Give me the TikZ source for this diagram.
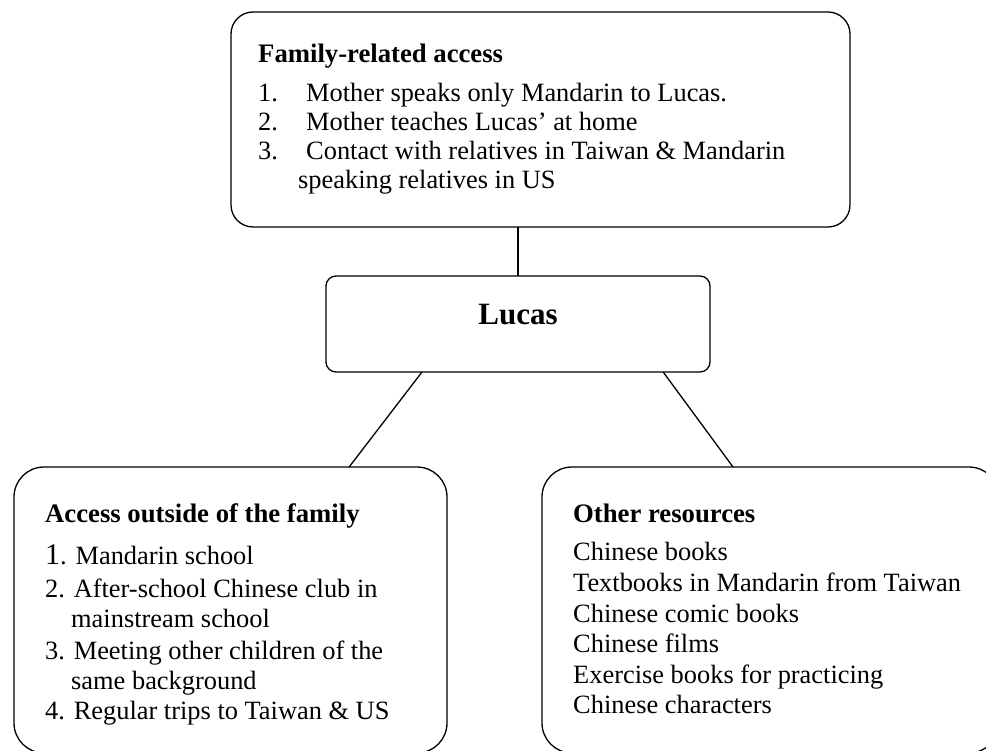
\documentclass[tikz,border=0pt]{standalone}
\usepackage{fontspec}
\setmainfont{Liberation Serif}
\usetikzlibrary{calc}
\begin{document}
\begin{tikzpicture}[x=1pt,y=-1pt,
  box/.style={draw, line width=1.3pt, inner sep=0pt, outer sep=0pt, rounded corners=#1},
  conn/.style={line width=1.3pt},
  txt/.style={anchor=base west, inner sep=0pt, font=\fontsize{26.4}{32}\selectfont},
  head/.style={anchor=base west, inner sep=0pt, font=\fontsize{26.7}{31}\selectfont\bfseries}]
\useasboundingbox (0,0) rectangle (986,751);
\clip (0,0) rectangle (986,751);

% boxes
\node[box=22pt, minimum width=619pt, minimum height=215pt] (family) at (540.5,119.5) {};
\node[box=10pt, minimum width=384pt, minimum height=96pt] (lucas) at (518,324) {};
\node[box=30pt, minimum width=433pt, minimum height=286pt] (outside) at (230.5,610) {};
\node[box=30pt, minimum width=457pt, minimum height=286pt] (other) at (770.5,610) {};

% connectors
\draw[conn] (lucas.north) -- (lucas.north |- family.south);
\draw[conn] ($(lucas.south west)!0.25!(lucas.south east)$) -- ($(outside.north west)!0.774!(outside.north east)$);
\draw[conn] ($(lucas.south west)!0.878!(lucas.south east)$) -- ($(other.north west)!0.418!(other.north east)$);

% family-related access
\node[head] (fh) at (258,63) {Family-related access};
\node[txt] (fn1) at (258,102) {1.};
\node[txt] (ft1) at (306,102) {Mother speaks only Mandarin to Lucas.};
\node[txt] (fn2) at (258,131) {2.};
\node[txt] (ft2) at (306,131) {Mother teaches Lucas’ at home};
\node[txt] (fn3) at (258,160) {3.};
\node[txt] (ft3) at (306,160) {Contact with relatives in Taiwan \& Mandarin};
\node[txt] (ft3b) at (298,189) {speaking relatives in US};

% centre
\node[anchor=base, inner sep=0pt, font=\fontsize{31}{36}\selectfont\bfseries] (lt) at (518,325) {Lucas};

% access outside of the family
\node[head] (oh) at (45,522) {Access outside of the family};
\node[txt] (o1) at (45,564) {{\fontsize{30}{36}\selectfont 1}. Mandarin school};
\node[txt] (o2) at (45,597) {2. After-school Chinese club in};
\node[txt] (o2b) at (71,627) {mainstream school};
\node[txt] (o3) at (45,659) {3. Meeting other children of the};
\node[txt] (o3b) at (71,689) {same background};
\node[txt] (o4) at (45,719) {4. Regular trips to Taiwan \& US};

% other resources
\node[head] (rh) at (573,522) {Other resources};
\node[txt] (r1) at (573,560) {Chinese books};
\node[txt] (r2) at (573,591) {Textbooks in Mandarin from Taiwan};
\node[txt] (r3) at (573,622) {Chinese comic books};
\node[txt] (r4) at (573,652) {Chinese films};
\node[txt] (r5) at (573,683) {Exercise books for practicing};
\node[txt] (r6) at (573,713) {Chinese characters};
\end{tikzpicture}
\end{document}
